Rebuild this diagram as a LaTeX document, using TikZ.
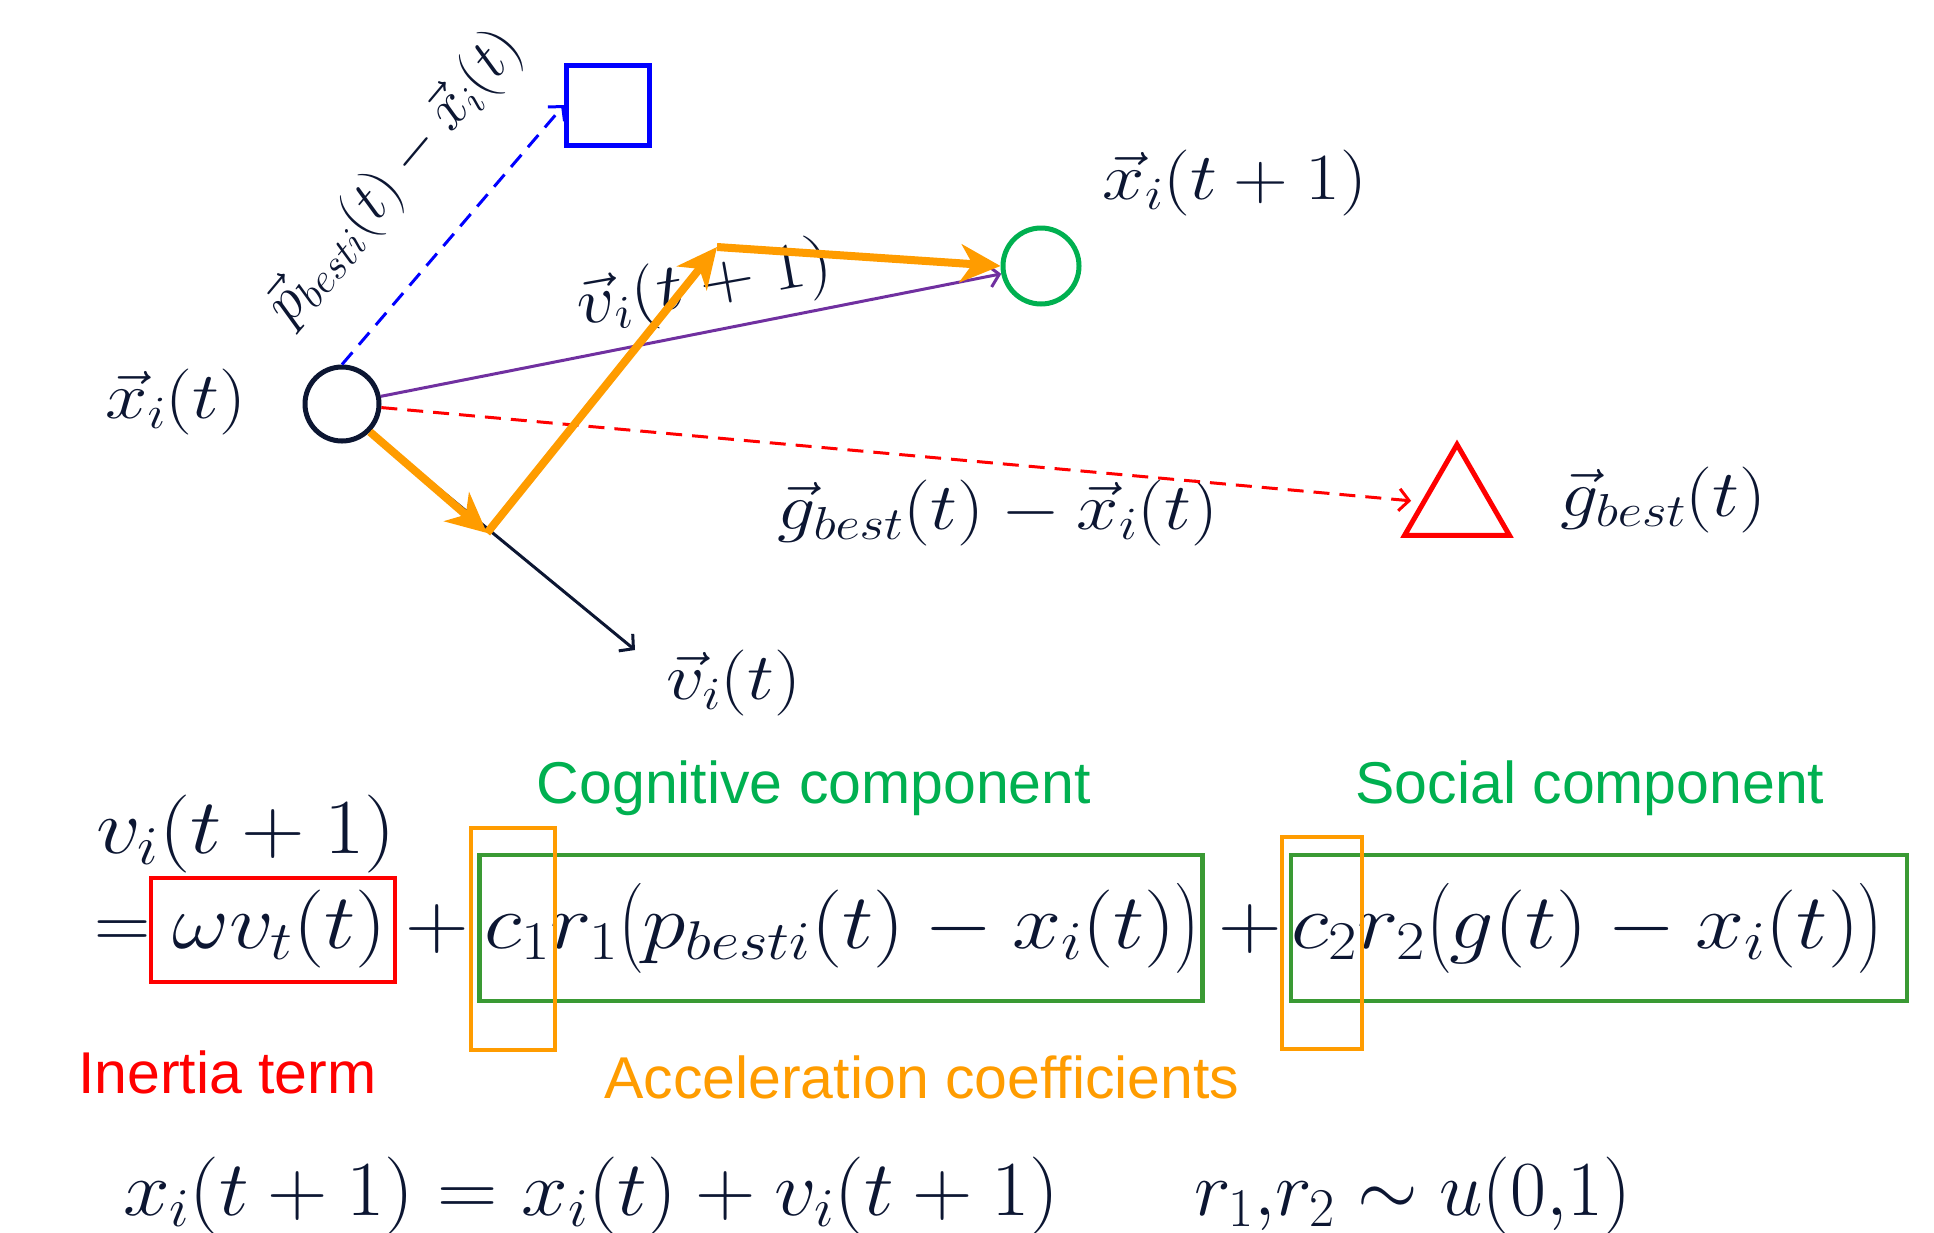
\RequirePackage{fix-cm}
\documentclass[tikz,border=0pt]{standalone}
\usepackage{amsmath}
\usepackage{fontspec}
\usepackage{xcolor}
\usetikzlibrary{positioning, arrows.meta, shapes.geometric}
\newfontfamily\labelsans{Liberation Sans}
\definecolor{inkblue}{RGB}{12,22,50}
\definecolor{psogreen}{RGB}{0,176,80}
\definecolor{boxgreen}{RGB}{58,154,52}
\definecolor{psoorange}{RGB}{255,156,0}
\definecolor{psopurple}{RGB}{112,48,160}

\begin{document}
\begin{tikzpicture}[x=1pt, y=-1pt,
  lbl/.style={text=inkblue, inner sep=0pt, font=\fontsize{66}{76}\selectfont, xscale=1.15},
  eqn/.style={text=inkblue, inner sep=0pt, font=\fontsize{78}{90}\selectfont, xscale=1.13},
  captiontxt/.style={inner sep=0pt, font=\labelsans\fontsize{59}{70}\selectfont},
  thinarrow/.style={line width=3pt, -{Straight Barb[length=10pt, width=22pt]}},
  orangearrow/.style={line width=8pt, draw=psoorange, -{Stealth[length=40pt, width=38pt, inset=12pt]}},
  termbox/.style={draw, line width=4.5pt, inner sep=0pt}]
  \useasboundingbox (0,0) rectangle (1934,1232);
  \clip (0,0) rectangle (1934,1232);

  % particle positions
  \node[circle, draw=inkblue, line width=5pt, minimum size=74pt, inner sep=0pt] (xold) at (342,404) {};
  \node[circle, draw=psogreen, line width=5pt, minimum size=76pt, inner sep=0pt] (xnew) at (1041,266) {};
  \node[rectangle, draw=blue, line width=5pt, minimum width=83pt, minimum height=80pt] (pbest) at (608,105) {};
  \node[regular polygon, regular polygon sides=3, draw=red, line width=5pt, minimum size=121pt, inner sep=0pt] (gbest) at (1457,505) {};
  \coordinate (vmid) at (487,533);
  \coordinate (vbend) at (717,247);
  \coordinate (vtip) at (635,650);

  % labels
  \node[lbl] (lxold) at (176,402) {$\vec{x}_i(t)$};
  \node[lbl] (lxnew) at (1235,183) {$\vec{x}_i(t+1)$};
  \node[lbl] (lvt) at (734,683) {$\vec{v}_i(t)$};
  \node[lbl] (lgdiff) at (998,513) {$\vec{g}_{best}(t)-\vec{x}_i(t)$};
  \node[lbl, anchor=west] (lgbest) at (1560,500) {$\vec{g}_{best}(t)$};
  \node[rotate=10, lbl] (lvnext) at (705,287) {$\vec{v}_i(t+1)$};
  \node[rotate=50, text=inkblue, inner sep=0pt, font=\fontsize{60}{70}\selectfont] (lpdiff) at (395,178) {$\vec{p}_{besti}(t)-\vec{x}_i(t)$};

  % vectors
  \draw[thinarrow, draw=inkblue] (xold.-45) -- (vtip);
  \draw[thinarrow, draw=blue, dash pattern=on 16pt off 10pt] (xold.north) -- (pbest.west);
  \draw[thinarrow, draw=red, dash pattern=on 16pt off 10pt, shorten >=10pt] (xold) -- (gbest);
  \draw[thinarrow, draw=psopurple] (xold) -- (xnew);
  \draw[orangearrow] (xold.-45) -- (vmid);
  \draw[orangearrow] (vmid) -- (vbend);
  \draw[orangearrow] (vbend) -- (xnew.west);

  % velocity update
  \node[captiontxt, text=psogreen, anchor=base] (cogtxt) at (814,803) {Cognitive component};
  \node[captiontxt, text=psogreen, anchor=base] (soctxt) at (1590,803) {Social component};
  \node[eqn, anchor=base west] (vnext) at (96,853) {$v_i(t+1)$};
  \node[text=inkblue, inner sep=0pt, font=\fontsize{78}{90}\selectfont, anchor=base east] (eqsign) at (151,948) {$=$};
  \node[eqn, anchor=base west] (inert) at (172,948) {$\omega v_t(t)$};
  \node[eqn, anchor=base] (plusa) at (437,948) {$+$};
  \node[eqn, anchor=base west] (cogn) at (484,948) {$c_1r_1\bigl(p_{besti}(t)-x_i(t)\bigr)$};
  \node[eqn, anchor=base] (plusb) at (1250,948) {$+$};
  \node[eqn, anchor=base west] (soc) at (1291,948) {$c_2r_2\bigl(g(t)-x_i(t)\bigr)$};

  \node[termbox, draw=red, minimum width=244pt, minimum height=104pt] (inertbox) at (273,930) {};
  \node[termbox, draw=boxgreen, minimum width=723pt, minimum height=146pt] (cogbox) at (841,928) {};
  \node[termbox, draw=boxgreen, minimum width=616pt, minimum height=146pt] (socbox) at (1599,928) {};
  \node[termbox, draw=psoorange, line width=4pt, minimum width=84pt, minimum height=222pt] (acca) at (513,939) {};
  \node[termbox, draw=psoorange, line width=4pt, minimum width=80pt, minimum height=212pt] (accb) at (1322,943) {};

  \node[captiontxt, text=red, anchor=base west] (inertxt) at (78,1093) {Inertia term};
  \node[captiontxt, text=psoorange, anchor=base west] (acctxt) at (604,1098) {Acceleration coefficients};

  % position update
  \node[eqn, xscale=0.95, anchor=base west] (xupd) at (123,1215) {$x_i(t+1)=x_i(t)+v_i(t+1)$};
  \node[text=inkblue, inner sep=0pt, font=\fontsize{78}{90}\selectfont, anchor=base west] (rdist) at (1194,1215) {$r_1{,}r_2\sim u(0{,}1)$};
\end{tikzpicture}
\end{document}
